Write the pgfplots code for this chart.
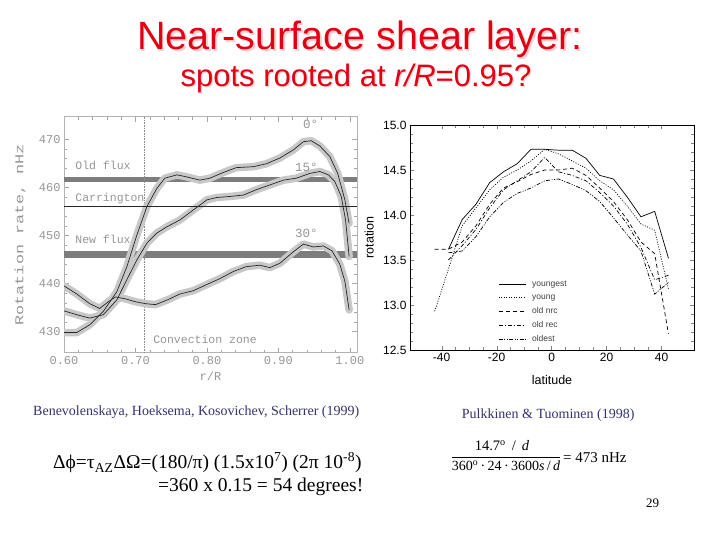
\documentclass[border=0pt]{standalone}
\usepackage{fontspec}
\setmainfont{Liberation Serif}
\newfontfamily\arial{Liberation Sans}
\newfontfamily\mono{Liberation Mono}
\usepackage{pgfplots}
\pgfplotsset{compat=1.18}
\usepackage{pgfplotstable}

\definecolor{titlered}{RGB}{226,0,20}
\definecolor{citeblue}{RGB}{51,51,110}
\definecolor{bandgray}{RGB}{200,200,200}
\definecolor{fluxgray}{RGB}{125,125,125}
\definecolor{labgray}{RGB}{150,150,150}

% rotation rate (nHz) against r/R, Benevolenskaya et al.
\pgfplotstableread{
r v
0.600 429.8
0.618 429.8
0.636 431.4
0.655 434.2
0.674 438.3
0.688 443.5
0.702 450.1
0.716 456.0
0.730 459.8
0.741 461.9
0.758 462.6
0.771 462.2
0.790 461.5
0.804 461.9
0.823 463.1
0.841 464.1
0.865 464.3
0.883 464.9
0.902 466.1
0.921 467.8
0.935 469.5
0.946 469.7
0.958 468.6
0.972 466.4
0.983 462.9
0.993 457.4
0.999 452.5
}\lataZero
\pgfplotstableread{
r v
0.600 434.3
0.618 433.5
0.636 432.8
0.655 433.5
0.674 436.6
0.688 440.8
0.702 444.9
0.716 448.4
0.730 450.5
0.744 451.8
0.762 453.2
0.781 455.3
0.800 457.4
0.814 457.9
0.832 458.1
0.851 458.4
0.869 459.5
0.888 460.5
0.907 461.5
0.925 461.9
0.944 462.9
0.958 463.3
0.970 462.6
0.979 461.2
0.988 458.1
0.994 453.2
0.999 445.6
}\lataFifteen
\pgfplotstableread{
r v
0.600 439.5
0.618 437.8
0.636 435.8
0.650 434.8
0.662 436.2
0.672 437.2
0.686 436.8
0.700 436.2
0.714 435.8
0.728 435.6
0.745 436.6
0.762 437.8
0.781 438.5
0.800 439.8
0.818 441.0
0.837 442.5
0.855 443.5
0.874 443.8
0.888 443.3
0.902 444.2
0.921 446.6
0.935 448.2
0.949 447.6
0.963 447.8
0.975 446.8
0.986 444.0
0.993 440.5
0.999 434.5
}\lataThirty

% rotation (deg/day) against latitude, Pulkkinen & Tuominen
\pgfplotstableread{
lat rot
-37.5 13.62
-32.5 13.95
-27.5 14.12
-22.5 14.36
-17.5 14.48
-12.5 14.57
-7.5 14.73
-2.5 14.73
2.5 14.72
7.5 14.72
12.5 14.63
17.5 14.44
22.5 14.40
27.5 14.20
32.5 13.98
37.5 14.04
42.5 13.52
}\youngest
\pgfplotstableread{
lat rot
-42.5 12.93
-37.5 13.40
-32.5 13.88
-27.5 14.08
-22.5 14.28
-17.5 14.42
-12.5 14.50
-7.5 14.60
-2.5 14.73
2.5 14.68
7.5 14.60
12.5 14.52
17.5 14.38
22.5 14.28
27.5 14.10
32.5 13.90
37.5 13.83
42.5 13.18
}\young
\pgfplotstableread{
lat rot
-42.5 13.62
-37.5 13.62
-32.5 13.70
-27.5 13.88
-22.5 14.12
-17.5 14.30
-12.5 14.37
-7.5 14.45
-2.5 14.50
2.5 14.50
7.5 14.52
12.5 14.44
17.5 14.30
22.5 14.15
27.5 13.95
32.5 13.70
37.5 13.57
42.5 12.68
}\oldnrc
\pgfplotstableread{
lat rot
-37.5 13.50
-32.5 13.66
-27.5 13.84
-22.5 14.08
-17.5 14.28
-12.5 14.38
-7.5 14.48
-2.5 14.64
2.5 14.48
7.5 14.44
12.5 14.38
17.5 14.25
22.5 14.10
27.5 13.90
32.5 13.64
37.5 13.28
42.5 13.33
}\oldrec
\pgfplotstableread{
lat rot
-37.5 13.58
-32.5 13.60
-27.5 13.76
-22.5 13.98
-17.5 14.14
-12.5 14.24
-7.5 14.30
-2.5 14.38
2.5 14.40
7.5 14.34
12.5 14.27
17.5 14.15
22.5 13.97
27.5 13.78
32.5 13.60
37.5 13.12
42.5 13.25
}\oldest

\begin{document}
\begin{tikzpicture}
\path[fill=white, use as bounding box] (0pt,0pt) rectangle (720pt,540pt);

% slide title
\begin{scope}[every node/.style={inner sep=0pt}]
\node[anchor=base, font=\arial\fontsize{39.5}{39.5}\selectfont, text=red!18] at (361.5pt,488.5pt) {Near-surface shear layer:};
\node[anchor=base, font=\arial\fontsize{39.5}{39.5}\selectfont, text=titlered] at (360pt,490pt) {Near-surface shear layer:};
\node[anchor=base, font=\arial\fontsize{31}{31}\selectfont, text=red!18] at (357.2pt,452.3pt) {spots rooted at \textit{r/R}=0.95?};
\node[anchor=base, font=\arial\fontsize{31}{31}\selectfont, text=titlered] at (356pt,453.5pt) {spots rooted at \textit{r/R}=0.95?};
\end{scope}

% left panel
\begin{axis}[
  at={(64pt,187.3pt)}, anchor=south west, scale only axis,
  width=293pt, height=236pt,
  xmin=0.60, xmax=1.01, ymin=425.6, ymax=474.7,
  xtick={0.6,0.7,0.8,0.9,1.0}, ytick={430,440,450,460,470},
  minor x tick num=4, minor y tick num=4,
  axis line style={draw=black!30},
  every tick/.style={black!35},
  major tick length=5pt, minor tick length=3pt,
  tick label style={font=\mono\fontsize{12}{12}\selectfont, text=labgray},
  /pgf/number format/assume math mode=true,
  x tick label style={/pgf/number format/.cd, fixed, fixed zerofill, precision=2},
  xlabel={r/R}, ylabel={\scalebox{1.4}[1]{Rotation rate, nHz}},
  label style={font=\mono\fontsize{12}{12}\selectfont, text=labgray},
  x label style={at={(axis description cs:0.5,-0.099)}, anchor=center},
  y label style={at={(axis description cs:-0.150,0.5)}, anchor=center},
]
\addplot[fluxgray, line width=5pt] coordinates {(0.60,461.7) (1.01,461.7)};
\addplot[fluxgray, line width=6.5pt] coordinates {(0.60,446.0) (1.01,446.0)};
\addplot[black!45, densely dotted, line width=0.6pt] coordinates {(0.7124,425.6) (0.7124,474.7)};
\addplot[bandgray, line width=7.5pt, line join=round, line cap=round] table[x=r, y=v] {\lataThirty};
\addplot[bandgray, line width=7.5pt, line join=round, line cap=round] table[x=r, y=v] {\lataFifteen};
\addplot[bandgray, line width=7.5pt, line join=round, line cap=round] table[x=r, y=v] {\lataZero};
\addplot[black!85, line width=0.8pt] coordinates {(0.60,456.0) (1.01,456.0)};
\addplot[black!85, line width=0.7pt] table[x=r, y=v] {\lataThirty};
\addplot[black!85, line width=0.7pt] table[x=r, y=v] {\lataFifteen};
\addplot[black!85, line width=0.7pt] table[x=r, y=v] {\lataZero};
\node[anchor=base west, font=\mono\fontsize{11.5}{11.5}\selectfont, text=labgray] at (axis cs:0.611,463.8) {Old flux};
\node[anchor=base west, font=\mono\fontsize{11.5}{11.5}\selectfont, text=labgray] at (axis cs:0.611,457.0) {Carrington};
\node[anchor=base west, font=\mono\fontsize{11.5}{11.5}\selectfont, text=labgray] at (axis cs:0.611,448.4) {New flux};
\node[anchor=base west, font=\mono\fontsize{11.5}{11.5}\selectfont, text=labgray] at (axis cs:0.720,427.6) {Convection zone};
\node[anchor=base, font=\mono\fontsize{12.5}{12.5}\selectfont, text=labgray] at (axis cs:0.945,472.3) {0°};
\node[anchor=base, font=\mono\fontsize{12.5}{12.5}\selectfont, text=labgray] at (axis cs:0.939,463.3) {15°};
\node[anchor=base, font=\mono\fontsize{12.5}{12.5}\selectfont, text=labgray] at (axis cs:0.939,449.6) {30°};
\end{axis}

% right panel
\begin{axis}[
  at={(410pt,190pt)}, anchor=south west, scale only axis,
  width=284pt, height=225pt,
  xmin=-51.5, xmax=51.8, ymin=12.5, ymax=15.0,
  xtick={-40,-20,0,20,40}, ytick={12.5,13,13.5,14,14.5,15},
  minor x tick num=3, minor y tick num=4,
  axis line style={line width=0.8pt},
  tick label style={font=\arial\fontsize{12}{12}\selectfont},
  /pgf/number format/assume math mode=true,
  y tick label style={/pgf/number format/.cd, fixed, fixed zerofill, precision=1},
  xlabel={latitude}, ylabel={rotation},
  label style={font=\arial\fontsize{12.5}{12.5}\selectfont},
  x label style={at={(axis description cs:0.5,-0.133)}, anchor=center},
  y label style={at={(axis description cs:-0.144,0.5)}, anchor=center},
  legend style={at={(axis cs:-20.5,13.31)}, anchor=north west, draw=none, fill=none,
    font=\arial\fontsize{8.5}{8.5}\selectfont, text=black!75, row sep=2.5pt,
    column sep=4pt, cells={anchor=west}},
  legend image code/.code={\draw[#1] (0pt,0pt) -- (27pt,0pt);},
  every axis plot/.append style={black, line width=0.7pt},
]
\addplot[solid] table[x=lat, y=rot] {\youngest};
\addlegendentry{youngest}
\addplot[dash pattern=on 1pt off 1.5pt] table[x=lat, y=rot] {\young};
\addlegendentry{young}
\addplot[dash pattern=on 4pt off 3pt] table[x=lat, y=rot] {\oldnrc};
\addlegendentry{old nrc}
\addplot[dash pattern=on 4pt off 2pt on 1pt off 2pt] table[x=lat, y=rot] {\oldrec};
\addlegendentry{old rec}
\addplot[dash pattern=on 4pt off 1.5pt on 1pt off 1.5pt on 1pt off 1.5pt] table[x=lat, y=rot] {\oldest};
\addlegendentry{oldest}
\end{axis}

% captions and formulas
\begin{scope}[every node/.style={inner sep=0pt}]
\node[anchor=base west, font=\fontsize{14}{14}\selectfont, text=citeblue] at (33pt,124.3pt) {Benevolenskaya, Hoeksema, Kosovichev, Scherrer (1999)};
\node[anchor=base west, font=\fontsize{14}{14}\selectfont, text=citeblue] at (461.7pt,121pt) {Pulkkinen \& Tuominen (1998)};
\node[anchor=base west, font=\fontsize{19.5}{19.5}\selectfont] at (53pt,71pt) {Δϕ=τ\textsubscript{AZ}ΔΩ=(180/π) (1.5x10\textsuperscript{7}) (2π 10\textsuperscript{-8})};
\node[anchor=base west, font=\fontsize{19.5}{19.5}\selectfont] at (158pt,48.3pt) {=360 x 0.15 = 54 degrees!};
\node[anchor=base, font=\fontsize{14.5}{14.5}\selectfont] at (502pt,89.3pt) {14.7\textsuperscript{o}\, /\, \textit{d}};
\draw[line width=0.6pt] (452pt,82.3pt) -- (560pt,82.3pt);
\node[anchor=base, font=\fontsize{14}{14}\selectfont] at (506pt,69pt) {360\textsuperscript{o}\,·\,24\,·\,3600\textit{s}\,/\,\textit{d}};
\node[anchor=base west, font=\fontsize{15}{15}\selectfont] at (563pt,77.3pt) {= 473 nHz};
\node[anchor=base, font=\fontsize{13}{13}\selectfont] at (652.5pt,32pt) {29};
\end{scope}
\end{tikzpicture}
\end{document}
